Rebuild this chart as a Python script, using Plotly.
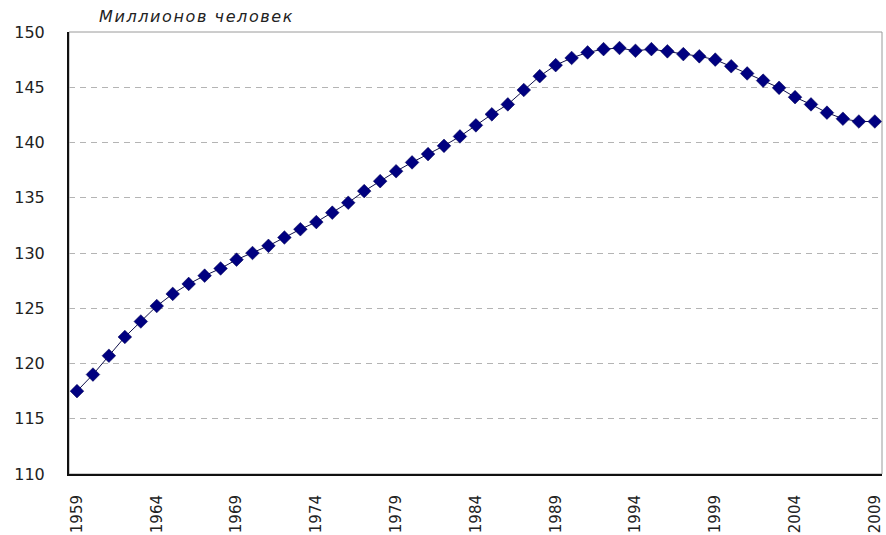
import plotly.graph_objects as go

# Population by year, millions of people
years = list(range(1959, 2010))
population = [
    117.5, 119.0, 120.7, 122.4, 123.8, 125.2, 126.3, 127.2, 127.95, 128.6,
    129.4, 130.0, 130.65, 131.4, 132.15, 132.8, 133.65, 134.55, 135.6, 136.5,
    137.4, 138.2, 138.95, 139.7, 140.55, 141.55, 142.55, 143.45, 144.75, 146.0,
    147.0, 147.65, 148.15, 148.45, 148.55, 148.3, 148.45, 148.25, 148.0, 147.8,
    147.5, 146.9, 146.25, 145.6, 144.95, 144.1, 143.45, 142.7, 142.15, 141.9,
    141.9,
]

x_ticks = list(range(1959, 2010, 5))
y_ticks = list(range(110, 151, 5))
unit_label = "Миллионов человек"

fig = go.Figure()
fig.add_trace(go.Scatter(
    x=years,
    y=population,
    mode="lines+markers",
    line=dict(color="#10104a", width=1),
    marker=dict(symbol="diamond", size=10.5, color="#000080",
                line=dict(color="#000050", width=0.5)),
    showlegend=False,
    hoverinfo="x+y",
))

# light frame around the plotting area
fig.add_shape(type="rect", xref="paper", yref="paper", x0=0, y0=0, x1=1, y1=1,
              line=dict(color="#9a9a9a", width=1), layer="below")

fig.add_annotation(
    text='<span style="letter-spacing:1.6px">' + unit_label + "</span>",
    xref="paper", yref="paper", x=0.034, y=1.0,
    xanchor="left", yanchor="bottom", yshift=4, showarrow=False,
    font=dict(family="DejaVu Sans", size=16, color="#222222", style="italic"),
)

fig.update_layout(
    width=886, height=535,
    margin=dict(l=69, r=2, t=32, b=56),
    paper_bgcolor="white", plot_bgcolor="white",
    font=dict(family="DejaVu Sans", color="#222222"),
    xaxis=dict(
        range=[1958.5, 2009.45],
        tickmode="array", tickvals=x_ticks, ticktext=[str(v) for v in x_ticks],
        tickangle=-90, tickfont=dict(size=15),
        showgrid=False, zeroline=False,
        showline=True, linecolor="#111111", linewidth=2,
        ticks="", ticklabelstandoff=13,
    ),
    yaxis=dict(
        range=[110, 150],
        tickmode="array", tickvals=y_ticks,
        tickfont=dict(size=16),
        showgrid=True, gridcolor="#b4b4b4", gridwidth=1, griddash="6px,5px",
        zeroline=False,
        showline=True, linecolor="#111111", linewidth=2,
        ticks="", ticklabelstandoff=19,
    ),
)

fig.write_html("out.html")
